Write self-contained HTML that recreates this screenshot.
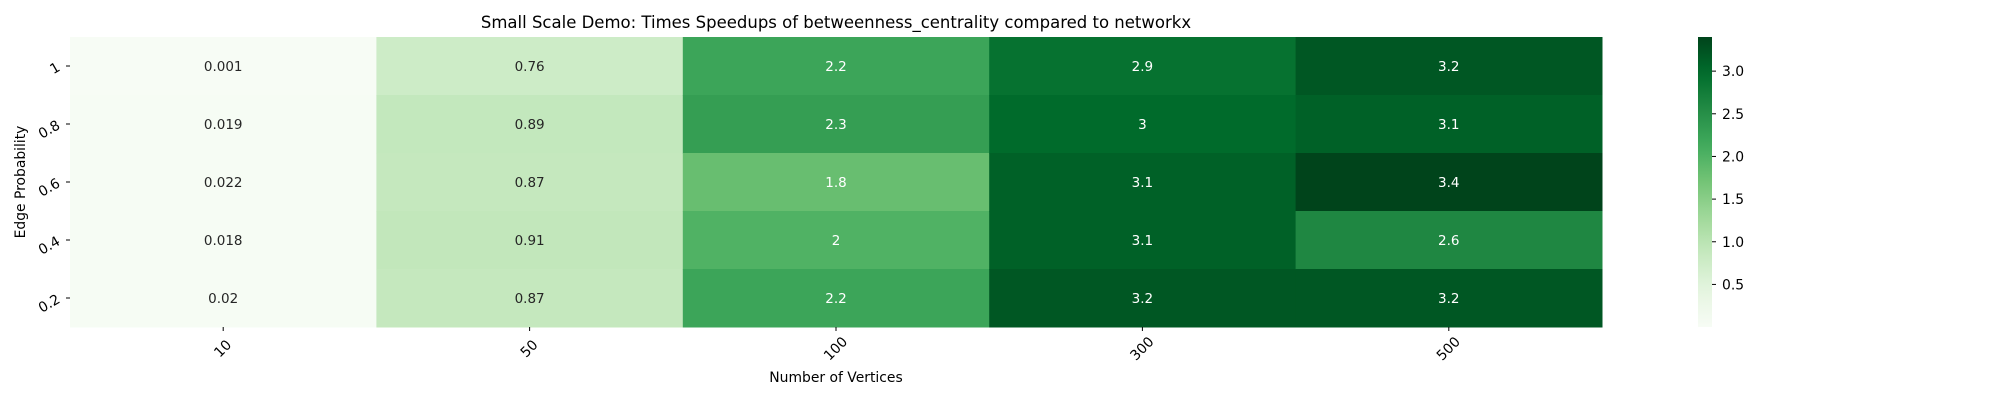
<!DOCTYPE html>
<html><head><meta charset="utf-8"><style>
body{margin:0;background:#fff;width:2000px;height:400px;overflow:hidden;font-family:"DejaVu Sans","Liberation Sans",sans-serif}
</style></head><body>
<svg id="chart" width="2000" height="400" xmlns="http://www.w3.org/2000/svg" font-family="DejaVu Sans, Liberation Sans, sans-serif">
<defs><linearGradient id="cbg" x1="0" y1="1" x2="0" y2="0"></linearGradient></defs>
<text x="836" y="28" font-size="16.5" text-anchor="middle" fill="#000">Small Scale Demo: Times Speedups of betweenness_centrality compared to networkx</text>
<text x="836" y="382" font-size="13.9" text-anchor="middle" fill="#000">Number of Vertices</text>
<text transform="translate(25,182) rotate(-90)" font-size="13.9" text-anchor="middle" fill="#000">Edge Probability</text>
<g id="cells"></g><g id="xt"></g><g id="yt"></g><g id="cb"></g>
</svg>
<script>
const xCats=["10","50","100","300","500"];
const yCats=["1","0.8","0.6","0.4","0.2"];
const col10=[0.001,0.019,0.022,0.018,0.02];
const col50=[0.76,0.89,0.87,0.91,0.87];
const col100=[2.2,2.3,1.8,2,2.2];
const col300=[2.9,3,3.1,3.1,3.2];
const col500=[3.2,3.1,3.4,2.6,3.2];
const cbTicks=[0.5,1.0,1.5,2.0,2.5,3.0];
const cols=[col10,col50,col100,col300,col500];
const NS="http://www.w3.org/2000/svg";
const L=70,R=1602,T=37,B=327;
const all=cols.flat();const vmin=Math.min(...all),vmax=Math.max(...all);
const cw=(R-L)/xCats.length,rh=(B-T)/yCats.length;
const xs=i=>L+i*cw, ys=j=>T+j*rh;
const stops=["#f7fcf5","#e5f5e0","#c7e9c0","#a1d99b","#74c476","#41ab5d","#238b45","#006d2c","#00441b"].map(h=>[1,3,5].map(k=>parseInt(h.substr(k,2),16)));
function cmap(v){let t=(v-vmin)/(vmax-vmin);t=Math.max(0,Math.min(1,t))*(stops.length-1);const i=Math.min(Math.floor(t),stops.length-2),f=t-i;const c=stops[i].map((a,k)=>Math.round(a+(stops[i+1][k]-a)*f));return c;}
function lin(c){c/=255;return c<=0.03928?c/12.92:Math.pow((c+0.055)/1.055,2.4);}
function mk(tag,attrs,parent){const e=document.createElementNS(NS,tag);for(const k in attrs)e.setAttribute(k,attrs[k]);parent.appendChild(e);return e;}
const gc=document.getElementById('cells');
cols.forEach((col,i)=>col.forEach((v,j)=>{
 const c=cmap(v);
 const r=mk('rect',{x:xs(i),y:ys(j),width:cw+0.5,height:rh+0.5,fill:`rgb(${c})`},gc);
 
 
 const lum=0.2126*lin(c[0])+0.7152*lin(c[1])+0.0722*lin(c[2]);
 const t=mk('text',{x:xs(i)+cw/2,y:ys(j)+rh/2+5,'font-size':13.5,'text-anchor':'middle',fill:lum>0.5?'#262626':'#fff'},gc);
 t.textContent=String(v);
 
 
}));
const gx=document.getElementById('xt');
xCats.forEach((c,i)=>{const x=xs(i)+cw/2;
 mk('line',{x1:x,x2:x,y1:B,y2:B+4,stroke:'#000','stroke-width':1},gx);
 const t=mk('text',{transform:`translate(${x},${B+22}) rotate(-45)`,'font-size':13.9,'text-anchor':'middle','dominant-baseline':'middle',fill:'#000'},gx);
 t.textContent=c;
 
 
});
const gy=document.getElementById('yt');
yCats.forEach((c,j)=>{const y=ys(j)+rh/2;
 mk('line',{x1:L-4,x2:L,y1:y,y2:y,stroke:'#000','stroke-width':1},gy);
 const t=mk('text',{transform:`translate(${L-9},${y+4}) rotate(-30)`,'font-size':13.9,'text-anchor':'end',fill:'#000'},gy);
 t.textContent=c;
 
 
});
const g=document.getElementById('cbg');
for(let k=0;k<=20;k++){const c=cmap(vmin+(vmax-vmin)*k/20);mk('stop',{offset:k/20,'stop-color':`rgb(${c})`},g);}
const gb=document.getElementById('cb');
const cbr=mk('rect',{x:1698,y:T,width:14,height:B-T,fill:'url(#cbg)'},gb);


const cy=v=>B-(v-vmin)/(vmax-vmin)*(B-T);
cbTicks.forEach(v=>{const y=cy(v);
 mk('line',{x1:1712,x2:1716,y1:y,y2:y,stroke:'#000','stroke-width':1},gb);
 const t=mk('text',{x:1722,y:y+5,'font-size':13.9,fill:'#000'},gb);
 t.textContent=v.toFixed(1);
 
 
});
</script>
</body></html>
